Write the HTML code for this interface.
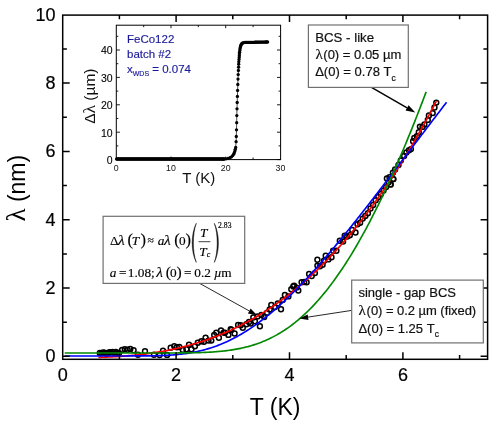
<!DOCTYPE html>
<html><head><meta charset="utf-8"><title>chart</title><style>html,body{margin:0;padding:0;background:#fff}body{width:491px;height:422px;overflow:hidden;position:relative}svg{will-change:transform;position:absolute;left:0;top:0}</style></head><body>
<svg width="491" height="422" viewBox="0 0 491 422" style="display:block">
<rect width="491" height="422" fill="#fff"/>
<g fill="none" stroke="#000" stroke-width="1.5">
<circle cx="167.1" cy="354.9" r="2.45"/>
<circle cx="170.7" cy="347.8" r="2.45"/>
<circle cx="174.3" cy="346.3" r="2.45"/>
<circle cx="179.3" cy="347.0" r="2.45"/>
<circle cx="182.8" cy="349.9" r="2.45"/>
<circle cx="186.4" cy="349.2" r="2.45"/>
<circle cx="191.4" cy="349.2" r="2.45"/>
<circle cx="194.9" cy="346.3" r="2.45"/>
<circle cx="197.8" cy="342.8" r="2.45"/>
<circle cx="201.4" cy="341.3" r="2.45"/>
<circle cx="205.6" cy="337.8" r="2.45"/>
<circle cx="208.5" cy="340.6" r="2.45"/>
<circle cx="211.3" cy="340.6" r="2.45"/>
<circle cx="214.2" cy="334.9" r="2.45"/>
<circle cx="216.3" cy="332.8" r="2.45"/>
<circle cx="218.9" cy="337.8" r="2.45"/>
<circle cx="221.0" cy="330.4" r="2.45"/>
<circle cx="224.9" cy="332.8" r="2.45"/>
<circle cx="228.4" cy="334.9" r="2.45"/>
<circle cx="231.3" cy="329.9" r="2.45"/>
<circle cx="234.6" cy="333.5" r="2.45"/>
<circle cx="230.7" cy="329.2" r="2.45"/>
<circle cx="238.1" cy="324.9" r="2.45"/>
<circle cx="242.8" cy="327.7" r="2.45"/>
<circle cx="246.4" cy="324.2" r="2.45"/>
<circle cx="250.7" cy="323.5" r="2.45"/>
<circle cx="254.9" cy="321.3" r="2.45"/>
<circle cx="259.9" cy="326.3" r="2.45"/>
<circle cx="261.4" cy="314.9" r="2.45"/>
<circle cx="264.2" cy="317.0" r="2.45"/>
<circle cx="267.1" cy="312.8" r="2.45"/>
<circle cx="271.3" cy="304.9" r="2.45"/>
<circle cx="274.9" cy="307.1" r="2.45"/>
<circle cx="277.8" cy="303.5" r="2.45"/>
<circle cx="281.0" cy="309.2" r="2.45"/>
<circle cx="282.7" cy="299.9" r="2.45"/>
<circle cx="284.9" cy="295.0" r="2.45"/>
<circle cx="288.4" cy="296.4" r="2.45"/>
<circle cx="291.3" cy="289.2" r="2.45"/>
<circle cx="294.1" cy="285.7" r="2.45"/>
<circle cx="293.3" cy="286.4" r="2.45"/>
<circle cx="298.3" cy="290.5" r="2.45"/>
<circle cx="301.6" cy="282.2" r="2.45"/>
<circle cx="306.6" cy="282.2" r="2.45"/>
<circle cx="309.1" cy="273.9" r="2.45"/>
<circle cx="314.9" cy="273.1" r="2.45"/>
<circle cx="317.4" cy="265.6" r="2.45"/>
<circle cx="317.4" cy="259.8" r="2.45"/>
<circle cx="324.0" cy="260.7" r="2.45"/>
<circle cx="325.7" cy="255.7" r="2.45"/>
<circle cx="331.5" cy="257.3" r="2.45"/>
<circle cx="333.1" cy="250.7" r="2.45"/>
<circle cx="336.4" cy="250.7" r="2.45"/>
<circle cx="339.8" cy="240.8" r="2.45"/>
<circle cx="343.1" cy="241.6" r="2.45"/>
<circle cx="344.7" cy="235.8" r="2.45"/>
<circle cx="347.2" cy="236.6" r="2.45"/>
<circle cx="352.2" cy="230.0" r="2.45"/>
<circle cx="355.5" cy="232.5" r="2.45"/>
<circle cx="393.3" cy="179.1" r="2.45"/>
<circle cx="390.6" cy="184.4" r="2.45"/>
<circle cx="436.3" cy="102.6" r="2.45"/>
<circle cx="434.5" cy="107.5" r="2.45"/>
<circle cx="432.7" cy="113.1" r="2.45"/>
<circle cx="428.9" cy="115.4" r="2.45"/>
<circle cx="427.8" cy="119.9" r="2.45"/>
<circle cx="424.4" cy="124.4" r="2.45"/>
<circle cx="419.9" cy="126.6" r="2.45"/>
<circle cx="418.8" cy="132.3" r="2.45"/>
<circle cx="414.3" cy="137.9" r="2.45"/>
<circle cx="413.1" cy="141.3" r="2.45"/>
<circle cx="410.9" cy="149.1" r="2.45"/>
<circle cx="406.4" cy="152.5" r="2.45"/>
<circle cx="404.1" cy="155.9" r="2.45"/>
<circle cx="400.8" cy="160.4" r="2.45"/>
<circle cx="398.5" cy="164.9" r="2.45"/>
<circle cx="395.1" cy="169.4" r="2.45"/>
<circle cx="392.9" cy="172.8" r="2.45"/>
<circle cx="389.5" cy="177.3" r="2.45"/>
<circle cx="99.8" cy="352.9" r="2.45"/>
<circle cx="101.4" cy="353.2" r="2.45"/>
<circle cx="103.0" cy="352.4" r="2.45"/>
<circle cx="104.6" cy="352.8" r="2.45"/>
<circle cx="106.2" cy="353.6" r="2.45"/>
<circle cx="107.8" cy="353.6" r="2.45"/>
<circle cx="109.4" cy="352.1" r="2.45"/>
<circle cx="111.0" cy="352.2" r="2.45"/>
<circle cx="112.6" cy="351.9" r="2.45"/>
<circle cx="114.2" cy="352.7" r="2.45"/>
<circle cx="115.8" cy="351.9" r="2.45"/>
<circle cx="117.4" cy="352.7" r="2.45"/>
<circle cx="119.0" cy="353.1" r="2.45"/>
<circle cx="122.1" cy="350.0" r="2.45"/>
<circle cx="124.8" cy="349.3" r="2.45"/>
<circle cx="127.6" cy="349.8" r="2.45"/>
<circle cx="130.3" cy="349.0" r="2.45"/>
<circle cx="133.6" cy="350.3" r="2.45"/>
<circle cx="138.0" cy="354.8" r="2.45"/>
<circle cx="145.0" cy="351.2" r="2.45"/>
<circle cx="154.0" cy="354.8" r="2.45"/>
<circle cx="159.6" cy="355.0" r="2.45"/>
<circle cx="163.0" cy="350.8" r="2.45"/>
<circle cx="357.5" cy="224.3" r="2.45"/>
<circle cx="360.1" cy="222.8" r="2.45"/>
<circle cx="362.7" cy="218.6" r="2.45"/>
<circle cx="365.3" cy="216.0" r="2.45"/>
<circle cx="367.9" cy="213.2" r="2.45"/>
<circle cx="370.5" cy="208.5" r="2.45"/>
<circle cx="373.1" cy="204.9" r="2.45"/>
<circle cx="375.7" cy="200.2" r="2.45"/>
<circle cx="378.3" cy="197.0" r="2.45"/>
<circle cx="380.9" cy="193.9" r="2.45"/>
<circle cx="383.5" cy="190.6" r="2.45"/>
<circle cx="386.1" cy="187.1" r="2.45"/>
<circle cx="388.7" cy="182.2" r="2.45"/>
<circle cx="386.9" cy="178.5" r="2.45"/>
<circle cx="393.3" cy="179.1" r="2.45"/>
<circle cx="390.6" cy="184.4" r="2.45"/>
<circle cx="176.9" cy="347.3" r="2.45"/>
<circle cx="189.0" cy="344.8" r="2.45"/>
<circle cx="204.0" cy="341.7" r="2.45"/>
<circle cx="223.6" cy="332.6" r="2.45"/>
<circle cx="240.7" cy="325.3" r="2.45"/>
<circle cx="249.0" cy="322.0" r="2.45"/>
<circle cx="253.3" cy="317.4" r="2.45"/>
<circle cx="257.5" cy="316.4" r="2.45"/>
<circle cx="269.7" cy="309.5" r="2.45"/>
<circle cx="296.7" cy="287.6" r="2.45"/>
<circle cx="304.2" cy="282.0" r="2.45"/>
<circle cx="311.7" cy="276.1" r="2.45"/>
<circle cx="320.0" cy="266.3" r="2.45"/>
<circle cx="322.6" cy="264.7" r="2.45"/>
<circle cx="328.3" cy="259.4" r="2.45"/>
<circle cx="349.8" cy="235.2" r="2.45"/>
<circle cx="409.0" cy="150.2" r="2.45"/>
<circle cx="416.9" cy="136.1" r="2.45"/>
<circle cx="422.5" cy="126.9" r="2.45"/>
</g>
<path d="M98.42,357.38 L100.12,357.33 L101.82,357.28 L103.52,357.22 L105.21,357.15 L106.91,357.08 L108.61,357.01 L110.31,356.93 L112.01,356.85 L113.70,356.76 L115.40,356.67 L117.10,356.57 L118.80,356.46 L120.50,356.35 L122.20,356.23 L123.89,356.11 L125.59,355.97 L127.29,355.84 L128.99,355.69 L130.69,355.54 L132.38,355.39 L134.08,355.22 L135.78,355.05 L137.48,354.87 L139.18,354.69 L140.87,354.49 L142.57,354.29 L144.27,354.08 L145.97,353.87 L147.67,353.64 L149.37,353.41 L151.06,353.17 L152.76,352.92 L154.46,352.66 L156.16,352.39 L157.86,352.11 L159.55,351.83 L161.25,351.53 L162.95,351.23 L164.65,350.92 L166.35,350.60 L168.05,350.26 L169.74,349.92 L171.44,349.57 L173.14,349.21 L174.84,348.84 L176.54,348.46 L178.23,348.06 L179.93,347.66 L181.63,347.25 L183.33,346.82 L185.03,346.39 L186.72,345.94 L188.42,345.49 L190.12,345.02 L191.82,344.54 L193.52,344.05 L195.22,343.55 L196.91,343.03 L198.61,342.51 L200.31,341.97 L202.01,341.42 L203.71,340.86 L205.40,340.28 L207.10,339.70 L208.80,339.10 L210.50,338.49 L212.20,337.86 L213.90,337.23 L215.59,336.58 L217.29,335.91 L218.99,335.24 L220.69,334.55 L222.39,333.84 L224.08,333.13 L225.78,332.40 L227.48,331.65 L229.18,330.90 L230.88,330.13 L232.57,329.34 L234.27,328.54 L235.97,327.73 L237.67,326.90 L239.37,326.05 L241.07,325.20 L242.76,324.32 L244.46,323.44 L246.16,322.53 L247.86,321.62 L249.56,320.68 L251.25,319.74 L252.95,318.77 L254.65,317.79 L256.35,316.80 L258.05,315.79 L259.75,314.76 L261.44,313.72 L263.14,312.66 L264.84,311.59 L266.54,310.50 L268.24,309.39 L269.93,308.27 L271.63,307.13 L273.33,305.97 L275.03,304.79 L276.73,303.60 L278.42,302.40 L280.12,301.17 L281.82,299.93 L283.52,298.67 L285.22,297.39 L286.92,296.10 L288.61,294.79 L290.31,293.46 L292.01,292.11 L293.71,290.74 L295.41,289.36 L297.10,287.95 L298.80,286.53 L300.50,285.10 L302.20,283.64 L303.90,282.16 L305.60,280.67 L307.29,279.15 L308.99,277.62 L310.69,276.07 L312.39,274.50 L314.09,272.91 L315.78,271.30 L317.48,269.67 L319.18,268.02 L320.88,266.35 L322.58,264.66 L324.28,262.95 L325.97,261.23 L327.67,259.48 L329.37,257.71 L331.07,255.92 L332.77,254.11 L334.46,252.28 L336.16,250.43 L337.86,248.56 L339.56,246.67 L341.26,244.76 L342.95,242.83 L344.65,240.87 L346.35,238.90 L348.05,236.90 L349.75,234.88 L351.45,232.84 L353.14,230.78 L354.84,228.70 L356.54,226.59 L358.24,224.46 L359.94,222.31 L361.63,220.14 L363.33,217.95 L365.03,215.73 L366.73,213.50 L368.43,211.24 L370.13,208.95 L371.82,206.65 L373.52,204.32 L375.22,201.97 L376.92,199.59 L378.62,197.20 L380.31,194.77 L382.01,192.33 L383.71,189.86 L385.41,187.37 L387.11,184.86 L388.80,182.32 L390.50,179.76 L392.20,177.17 L393.90,174.56 L395.60,171.93 L397.30,169.27 L398.99,166.59 L400.69,163.88 L402.39,161.15 L404.09,158.39 L405.79,155.61 L407.48,152.81 L409.18,149.97 L410.88,147.12 L412.58,144.24 L414.28,141.33 L415.98,138.40 L417.67,135.45 L419.37,132.47 L421.07,129.46 L422.77,126.43 L424.47,123.37 L426.16,120.28 L427.86,117.17 L429.56,114.04 L431.26,110.87 L432.96,107.69 L434.65,104.47 L436.35,101.23" fill="none" stroke="#f00" stroke-width="1.65"/>
<path d="M64.68,355.95 L66.16,355.95 L67.63,355.95 L69.11,355.95 L70.58,355.95 L72.06,355.95 L73.53,355.95 L75.01,355.95 L76.48,355.95 L77.95,355.95 L79.43,355.95 L80.90,355.95 L82.38,355.95 L83.85,355.95 L85.33,355.95 L86.80,355.95 L88.28,355.95 L89.75,355.95 L91.22,355.95 L92.70,355.95 L94.17,355.95 L95.65,355.95 L97.12,355.95 L98.60,355.95 L100.07,355.95 L101.54,355.95 L103.02,355.95 L104.49,355.95 L105.97,355.95 L107.44,355.95 L108.92,355.95 L110.39,355.95 L111.87,355.95 L113.34,355.95 L114.81,355.95 L116.29,355.95 L117.76,355.95 L119.24,355.95 L120.71,355.95 L122.19,355.95 L123.66,355.95 L125.14,355.95 L126.61,355.95 L128.08,355.94 L129.56,355.94 L131.03,355.94 L132.51,355.94 L133.98,355.94 L135.46,355.93 L136.93,355.93 L138.41,355.92 L139.88,355.92 L141.35,355.91 L142.83,355.90 L144.30,355.89 L145.78,355.88 L147.25,355.86 L148.73,355.84 L150.20,355.82 L151.68,355.80 L153.15,355.77 L154.62,355.74 L156.10,355.71 L157.57,355.67 L159.05,355.63 L160.52,355.58 L162.00,355.52 L163.47,355.46 L164.94,355.40 L166.42,355.32 L167.89,355.24 L169.37,355.16 L170.84,355.06 L172.32,354.96 L173.79,354.84 L175.27,354.72 L176.74,354.59 L178.21,354.45 L179.69,354.29 L181.16,354.13 L182.64,353.96 L184.11,353.77 L185.59,353.57 L187.06,353.36 L188.54,353.13 L190.01,352.89 L191.48,352.64 L192.96,352.37 L194.43,352.09 L195.91,351.80 L197.38,351.48 L198.86,351.16 L200.33,350.81 L201.81,350.46 L203.28,350.08 L204.75,349.69 L206.23,349.28 L207.70,348.85 L209.18,348.41 L210.65,347.95 L212.13,347.47 L213.60,346.97 L215.08,346.45 L216.55,345.92 L218.02,345.37 L219.50,344.80 L220.97,344.21 L222.45,343.60 L223.92,342.97 L225.40,342.32 L226.87,341.66 L228.35,340.97 L229.82,340.26 L231.29,339.54 L232.77,338.80 L234.24,338.03 L235.72,337.25 L237.19,336.45 L238.67,335.63 L240.14,334.79 L241.61,333.93 L243.09,333.05 L244.56,332.15 L246.04,331.23 L247.51,330.29 L248.99,329.34 L250.46,328.36 L251.94,327.37 L253.41,326.36 L254.88,325.33 L256.36,324.28 L257.83,323.21 L259.31,322.12 L260.78,321.02 L262.26,319.90 L263.73,318.76 L265.21,317.60 L266.68,316.43 L268.15,315.23 L269.63,314.02 L271.10,312.80 L272.58,311.56 L274.05,310.30 L275.53,309.02 L277.00,307.73 L278.48,306.42 L279.95,305.10 L281.42,303.76 L282.90,302.40 L284.37,301.03 L285.85,299.65 L287.32,298.25 L288.80,296.83 L290.27,295.40 L291.75,293.96 L293.22,292.50 L294.69,291.03 L296.17,289.55 L297.64,288.05 L299.12,286.54 L300.59,285.02 L302.07,283.48 L303.54,281.93 L305.01,280.37 L306.49,278.80 L307.96,277.21 L309.44,275.62 L310.91,274.01 L312.39,272.39 L313.86,270.76 L315.34,269.12 L316.81,267.47 L318.28,265.81 L319.76,264.14 L321.23,262.45 L322.71,260.76 L324.18,259.06 L325.66,257.35 L327.13,255.63 L328.61,253.91 L330.08,252.17 L331.55,250.43 L333.03,248.67 L334.50,246.91 L335.98,245.14 L337.45,243.37 L338.93,241.58 L340.40,239.79 L341.88,237.99 L343.35,236.19 L344.82,234.38 L346.30,232.56 L347.77,230.74 L349.25,228.90 L350.72,227.07 L352.20,225.23 L353.67,223.38 L355.15,221.53 L356.62,219.67 L358.09,217.81 L359.57,215.94 L361.04,214.06 L362.52,212.19 L363.99,210.31 L365.47,208.42 L366.94,206.53 L368.41,204.64 L369.89,202.74 L371.36,200.84 L372.84,198.94 L374.31,197.03 L375.79,195.12 L377.26,193.20 L378.74,191.29 L380.21,189.37 L381.68,187.45 L383.16,185.52 L384.63,183.60 L386.11,181.67 L387.58,179.74 L389.06,177.81 L390.53,175.88 L392.01,173.94 L393.48,172.00 L394.95,170.07 L396.43,168.13 L397.90,166.19 L399.38,164.25 L400.85,162.30 L402.33,160.36 L403.80,158.42 L405.28,156.48 L406.75,154.53 L408.22,152.59 L409.70,150.64 L411.17,148.70 L412.65,146.75 L414.12,144.81 L415.60,142.87 L417.07,140.92 L418.55,138.98 L420.02,137.04 L421.49,135.10 L422.97,133.15 L424.44,131.21 L425.92,129.28 L427.39,127.34 L428.87,125.40 L430.34,123.46 L431.81,121.53 L433.29,119.60 L434.76,117.67 L436.24,115.73 L437.71,113.81 L439.19,111.88 L440.66,109.95 L442.14,108.03 L443.61,106.11 L445.08,104.19 L446.56,102.27" fill="none" stroke="#00f" stroke-width="1.65"/>
<path d="M64.68,352.99 L66.08,352.99 L67.48,352.99 L68.87,352.99 L70.27,352.99 L71.66,352.99 L73.06,352.99 L74.45,352.99 L75.85,352.99 L77.24,352.99 L78.64,352.99 L80.04,352.99 L81.43,352.99 L82.83,352.99 L84.22,352.99 L85.62,352.99 L87.01,352.99 L88.41,352.99 L89.81,352.99 L91.20,352.99 L92.60,352.99 L93.99,352.99 L95.39,352.99 L96.78,352.99 L98.18,352.99 L99.57,352.99 L100.97,352.99 L102.37,352.99 L103.76,352.99 L105.16,352.99 L106.55,352.99 L107.95,352.99 L109.34,352.99 L110.74,352.99 L112.14,352.99 L113.53,352.99 L114.93,352.99 L116.32,352.99 L117.72,352.99 L119.11,352.99 L120.51,352.99 L121.90,352.99 L123.30,352.99 L124.70,352.99 L126.09,352.99 L127.49,352.99 L128.88,352.99 L130.28,352.99 L131.67,352.99 L133.07,352.99 L134.46,352.99 L135.86,352.99 L137.26,352.99 L138.65,352.99 L140.05,352.99 L141.44,352.99 L142.84,352.99 L144.23,352.99 L145.63,352.99 L147.03,352.99 L148.42,352.99 L149.82,352.99 L151.21,352.99 L152.61,352.99 L154.00,352.99 L155.40,352.99 L156.79,352.99 L158.19,352.99 L159.59,352.99 L160.98,352.99 L162.38,352.99 L163.77,352.99 L165.17,352.98 L166.56,352.98 L167.96,352.98 L169.36,352.97 L170.75,352.97 L172.15,352.97 L173.54,352.96 L174.94,352.96 L176.33,352.95 L177.73,352.94 L179.12,352.93 L180.52,352.92 L181.92,352.91 L183.31,352.90 L184.71,352.88 L186.10,352.87 L187.50,352.85 L188.89,352.83 L190.29,352.81 L191.68,352.78 L193.08,352.76 L194.48,352.73 L195.87,352.69 L197.27,352.66 L198.66,352.62 L200.06,352.57 L201.45,352.53 L202.85,352.48 L204.25,352.42 L205.64,352.36 L207.04,352.29 L208.43,352.22 L209.83,352.15 L211.22,352.06 L212.62,351.97 L214.01,351.88 L215.41,351.78 L216.81,351.67 L218.20,351.55 L219.60,351.43 L220.99,351.29 L222.39,351.15 L223.78,351.00 L225.18,350.84 L226.58,350.67 L227.97,350.49 L229.37,350.30 L230.76,350.10 L232.16,349.89 L233.55,349.66 L234.95,349.43 L236.34,349.18 L237.74,348.92 L239.14,348.65 L240.53,348.36 L241.93,348.06 L243.32,347.74 L244.72,347.41 L246.11,347.06 L247.51,346.70 L248.90,346.33 L250.30,345.93 L251.70,345.52 L253.09,345.09 L254.49,344.65 L255.88,344.19 L257.28,343.71 L258.67,343.21 L260.07,342.69 L261.47,342.15 L262.86,341.60 L264.26,341.02 L265.65,340.42 L267.05,339.80 L268.44,339.16 L269.84,338.50 L271.23,337.82 L272.63,337.12 L274.03,336.39 L275.42,335.64 L276.82,334.87 L278.21,334.07 L279.61,333.25 L281.00,332.41 L282.40,331.54 L283.79,330.65 L285.19,329.73 L286.59,328.79 L287.98,327.82 L289.38,326.83 L290.77,325.81 L292.17,324.77 L293.56,323.70 L294.96,322.60 L296.36,321.48 L297.75,320.33 L299.15,319.15 L300.54,317.95 L301.94,316.71 L303.33,315.45 L304.73,314.17 L306.12,312.85 L307.52,311.51 L308.92,310.13 L310.31,308.73 L311.71,307.30 L313.10,305.85 L314.50,304.36 L315.89,302.84 L317.29,301.30 L318.69,299.73 L320.08,298.12 L321.48,296.49 L322.87,294.83 L324.27,293.14 L325.66,291.42 L327.06,289.67 L328.45,287.89 L329.85,286.08 L331.25,284.24 L332.64,282.37 L334.04,280.47 L335.43,278.54 L336.83,276.58 L338.22,274.59 L339.62,272.57 L341.01,270.52 L342.41,268.44 L343.81,266.34 L345.20,264.20 L346.60,262.03 L347.99,259.83 L349.39,257.60 L350.78,255.34 L352.18,253.06 L353.58,250.74 L354.97,248.39 L356.37,246.02 L357.76,243.61 L359.16,241.18 L360.55,238.71 L361.95,236.22 L363.34,233.69 L364.74,231.14 L366.14,228.56 L367.53,225.95 L368.93,223.31 L370.32,220.64 L371.72,217.94 L373.11,215.22 L374.51,212.47 L375.91,209.68 L377.30,206.87 L378.70,204.03 L380.09,201.17 L381.49,198.27 L382.88,195.35 L384.28,192.40 L385.67,189.43 L387.07,186.42 L388.47,183.39 L389.86,180.33 L391.26,177.25 L392.65,174.13 L394.05,171.00 L395.44,167.83 L396.84,164.64 L398.23,161.42 L399.63,158.18 L401.03,154.91 L402.42,151.62 L403.82,148.29 L405.21,144.95 L406.61,141.58 L408.00,138.18 L409.40,134.76 L410.80,131.32 L412.19,127.85 L413.59,124.36 L414.98,120.84 L416.38,117.30 L417.77,113.73 L419.17,110.14 L420.56,106.53 L421.96,102.90 L423.36,99.24 L424.75,95.56 L426.15,91.85" fill="none" stroke="#080" stroke-width="1.65"/>
<g stroke="#000" stroke-width="1.5" fill="none">
<rect x="62.7" y="15.1" width="424.90000000000003" height="344.2"/>
<path d="M119.4,359.3 v-4.2 M119.4,15.1 v4.2"/>
<path d="M176.1,359.3 v-7 M176.1,15.1 v7"/>
<path d="M232.8,359.3 v-4.2 M232.8,15.1 v4.2"/>
<path d="M289.5,359.3 v-7 M289.5,15.1 v7"/>
<path d="M346.2,359.3 v-4.2 M346.2,15.1 v4.2"/>
<path d="M402.9,359.3 v-7 M402.9,15.1 v7"/>
<path d="M459.6,359.3 v-4.2 M459.6,15.1 v4.2"/>
<path d="M62.7,356.3 h7 M487.6,356.3 h-7"/>
<path d="M62.7,322.2 h4.2 M487.6,322.2 h-4.2"/>
<path d="M62.7,288.0 h7 M487.6,288.0 h-7"/>
<path d="M62.7,253.9 h4.2 M487.6,253.9 h-4.2"/>
<path d="M62.7,219.7 h7 M487.6,219.7 h-7"/>
<path d="M62.7,185.6 h4.2 M487.6,185.6 h-4.2"/>
<path d="M62.7,151.4 h7 M487.6,151.4 h-7"/>
<path d="M62.7,117.3 h4.2 M487.6,117.3 h-4.2"/>
<path d="M62.7,83.1 h7 M487.6,83.1 h-7"/>
<path d="M62.7,49.0 h4.2 M487.6,49.0 h-4.2"/>
</g>
<g font-family="Liberation Sans, sans-serif" font-size="18" fill="#000" stroke="#000" stroke-width="0.2">
<text x="62.7" y="381" text-anchor="middle">0</text>
<text x="176.1" y="381" text-anchor="middle">2</text>
<text x="289.5" y="381" text-anchor="middle">4</text>
<text x="402.9" y="381" text-anchor="middle">6</text>
<text x="55.6" y="362.2" text-anchor="end">0</text>
<text x="55.6" y="293.9" text-anchor="end">2</text>
<text x="55.6" y="225.6" text-anchor="end">4</text>
<text x="55.6" y="157.3" text-anchor="end">6</text>
<text x="55.6" y="89.0" text-anchor="end">8</text>
<text x="55.6" y="20.7" text-anchor="end">10</text>
</g>
<text x="275.2" y="415" text-anchor="middle" font-family="Liberation Sans, sans-serif" font-size="23">T (K)</text>
<text transform="translate(24.9,188.2) rotate(-90)" text-anchor="middle" font-family="Liberation Sans, sans-serif" font-size="23"><tspan font-family="Liberation Serif, serif" font-size="27">λ</tspan> (nm)</text>
<rect x="116.3" y="25.2" width="164.3" height="134.4" fill="#fff" stroke="#000" stroke-width="1"/>
<g stroke="#000" stroke-width="0.9" fill="none">
<path d="M116.3,159.6 h3.6 M280.6,159.6 h-3.6"/>
<path d="M116.3,145.9 h2 M280.6,145.9 h-2"/>
<path d="M116.3,132.2 h3.6 M280.6,132.2 h-3.6"/>
<path d="M116.3,118.5 h2 M280.6,118.5 h-2"/>
<path d="M116.3,104.8 h3.6 M280.6,104.8 h-3.6"/>
<path d="M116.3,91.1 h2 M280.6,91.1 h-2"/>
<path d="M116.3,77.4 h3.6 M280.6,77.4 h-3.6"/>
<path d="M116.3,63.7 h2 M280.6,63.7 h-2"/>
<path d="M116.3,50.0 h3.6 M280.6,50.0 h-3.6"/>
<path d="M116.3,36.3 h2 M280.6,36.3 h-2"/>
<path d="M143.7,159.6 v-2 M143.7,25.2 v2"/>
<path d="M171.0,159.6 v-3 M171.0,25.2 v3"/>
<path d="M198.3,159.6 v-2 M198.3,25.2 v2"/>
<path d="M225.7,159.6 v-3 M225.7,25.2 v3"/>
<path d="M253.1,159.6 v-2 M253.1,25.2 v2"/>
</g>
<g font-family="Liberation Sans, sans-serif" font-size="10.5" fill="#000" stroke="#000" stroke-width="0.1">
<text x="112.7" y="163.9" text-anchor="end">0</text>
<text x="112.7" y="136.5" text-anchor="end">10</text>
<text x="112.7" y="109.1" text-anchor="end">20</text>
<text x="112.7" y="81.7" text-anchor="end">30</text>
<text x="112.7" y="54.3" text-anchor="end">40</text>
</g>
<g font-family="Liberation Sans, sans-serif" font-size="8.8" fill="#111">
<text x="116.3" y="171.2" text-anchor="middle">0</text>
<text x="171.0" y="171.2" text-anchor="middle">10</text>
<text x="225.7" y="171.2" text-anchor="middle">20</text>
<text x="280.4" y="171.2" text-anchor="middle">30</text>
</g>
<text x="198.8" y="182.6" text-anchor="middle" font-family="Liberation Sans, sans-serif" font-size="15" fill="#111">T (K)</text>
<text transform="translate(95.2,96.2) rotate(-90)" text-anchor="middle" font-family="Liberation Sans, sans-serif" font-size="15.5" fill="#111">Δ<tspan font-family="Liberation Serif, serif" font-size="17.5">λ</tspan> (µm)</text>
<g font-family="Liberation Sans, sans-serif" font-size="11.5" fill="#1a1a99" stroke="#1a1a99" stroke-width="0.15">
<text x="127" y="43.1">FeCo122</text>
<text x="127" y="57.8">batch #2</text>
<text x="127" y="72.5">x<tspan font-size="7" dy="3.3">WDS</tspan><tspan dy="-3.3"> = 0.074</tspan></text>
</g>
<path d="M116.60,159.00 L117.40,159.00 L118.20,159.00 L119.00,159.00 L119.80,159.00 L120.60,159.00 L121.40,159.00 L122.20,159.00 L123.00,159.00 L123.80,159.00 L124.60,159.00 L125.40,159.00 L126.20,159.00 L127.00,159.00 L127.80,159.00 L128.60,159.00 L129.40,159.00 L130.20,159.00 L131.00,159.00 L131.80,159.00 L132.60,159.00 L133.40,159.00 L134.20,159.00 L135.00,159.00 L135.80,159.00 L136.60,159.00 L137.40,159.00 L138.20,159.00 L139.00,159.00 L139.80,159.00 L140.60,159.00 L141.40,159.00 L142.20,159.00 L143.00,159.00 L143.80,159.00 L144.60,159.00 L145.40,159.00 L146.20,159.00 L147.00,159.00 L147.80,159.00 L148.60,159.00 L149.40,159.00 L150.20,159.00 L151.00,159.00 L151.80,159.00 L152.60,159.00 L153.40,159.00 L154.20,159.00 L155.00,159.00 L155.80,159.00 L156.60,159.00 L157.40,159.00 L158.20,159.00 L159.00,159.00 L159.80,159.00 L160.60,159.00 L161.40,159.00 L162.20,159.00 L163.00,159.00 L163.80,159.00 L164.60,159.00 L165.40,159.00 L166.20,159.00 L167.00,159.00 L167.80,159.00 L168.60,159.00 L169.40,159.00 L170.20,159.00 L171.00,159.00 L171.80,159.00 L172.60,159.00 L173.40,159.00 L174.20,159.00 L175.00,159.00 L175.80,159.00 L176.60,159.00 L177.40,159.00 L178.20,159.00 L179.00,159.00 L179.80,159.00 L180.60,159.00 L181.40,159.00 L182.20,159.00 L183.00,159.00 L183.80,159.00 L184.60,159.00 L185.40,159.00 L186.20,159.00 L187.00,159.00 L187.80,159.00 L188.60,159.00 L189.40,159.00 L190.20,159.00 L191.00,159.00 L191.80,159.00 L192.60,159.00 L193.40,159.00 L194.20,159.00 L195.00,159.00 L195.80,159.00 L196.60,159.00 L197.40,159.00 L198.20,159.00 L199.00,159.00 L199.80,159.00 L200.60,159.00 L201.40,159.00 L202.20,159.00 L203.00,159.00 L203.80,159.00 L204.60,159.00 L205.40,159.00 L206.20,159.00 L207.00,159.00 L207.80,159.00 L208.60,159.00 L209.40,159.00 L210.20,159.00 L211.00,159.00 L211.80,159.00 L212.60,159.00 L213.40,159.00 L214.20,159.00 L215.00,159.00 L215.80,159.00 L216.60,159.00 L217.40,159.00 L218.20,159.00 L219.00,159.00 L219.80,159.00 L220.60,159.00 L221.40,159.00 L222.20,159.00 L223.00,159.00 L223.80,159.00 L224.00,159.00 L226.00,158.80 L228.00,158.40 L230.00,157.70 L231.50,156.80 L232.70,155.60 L233.60,154.20 L234.30,152.70 L234.90,151.00 L235.30,149.30 L235.65,147.40 L236.10,141.70 L236.30,136.50 L236.50,129.80 L236.65,122.70 L236.80,115.60 L237.00,108.80 L237.20,102.50 L237.40,96.40 L237.60,90.40 L237.80,84.50 L238.00,79.10 L238.20,74.60 L238.40,70.50 L238.55,67.20 L238.70,64.20 L238.85,61.80 L239.00,59.60 L239.15,57.60 L239.30,55.70 L239.45,53.90 L239.60,52.20 L239.80,50.60 L240.00,49.10 L240.25,47.70 L240.55,46.40 L240.90,45.20 L241.40,44.20 L242.00,43.40 L242.80,42.90 L243.80,42.60 L245.00,42.40 L246.00,42.40 L246.90,42.38 L247.80,42.37 L248.70,42.35 L249.60,42.33 L250.50,42.32 L251.40,42.30 L252.30,42.29 L253.20,42.27 L254.10,42.25 L255.00,42.24 L255.90,42.22 L256.80,42.20 L257.70,42.19 L258.60,42.17 L259.50,42.15 L260.40,42.14 L261.30,42.12 L262.20,42.11 L263.10,42.09 L264.00,42.07 L264.90,42.06 L265.80,42.04 L266.70,42.02 L267.60,42.01" fill="none" stroke="#000" stroke-width="0.7"/>
<g fill="#000">
<circle cx="116.6" cy="159.0" r="1.65"/>
<circle cx="117.4" cy="159.0" r="1.65"/>
<circle cx="118.2" cy="159.0" r="1.65"/>
<circle cx="119.0" cy="159.0" r="1.65"/>
<circle cx="119.8" cy="159.0" r="1.65"/>
<circle cx="120.6" cy="159.0" r="1.65"/>
<circle cx="121.4" cy="159.0" r="1.65"/>
<circle cx="122.2" cy="159.0" r="1.65"/>
<circle cx="123.0" cy="159.0" r="1.65"/>
<circle cx="123.8" cy="159.0" r="1.65"/>
<circle cx="124.6" cy="159.0" r="1.65"/>
<circle cx="125.4" cy="159.0" r="1.65"/>
<circle cx="126.2" cy="159.0" r="1.65"/>
<circle cx="127.0" cy="159.0" r="1.65"/>
<circle cx="127.8" cy="159.0" r="1.65"/>
<circle cx="128.6" cy="159.0" r="1.65"/>
<circle cx="129.4" cy="159.0" r="1.65"/>
<circle cx="130.2" cy="159.0" r="1.65"/>
<circle cx="131.0" cy="159.0" r="1.65"/>
<circle cx="131.8" cy="159.0" r="1.65"/>
<circle cx="132.6" cy="159.0" r="1.65"/>
<circle cx="133.4" cy="159.0" r="1.65"/>
<circle cx="134.2" cy="159.0" r="1.65"/>
<circle cx="135.0" cy="159.0" r="1.65"/>
<circle cx="135.8" cy="159.0" r="1.65"/>
<circle cx="136.6" cy="159.0" r="1.65"/>
<circle cx="137.4" cy="159.0" r="1.65"/>
<circle cx="138.2" cy="159.0" r="1.65"/>
<circle cx="139.0" cy="159.0" r="1.65"/>
<circle cx="139.8" cy="159.0" r="1.65"/>
<circle cx="140.6" cy="159.0" r="1.65"/>
<circle cx="141.4" cy="159.0" r="1.65"/>
<circle cx="142.2" cy="159.0" r="1.65"/>
<circle cx="143.0" cy="159.0" r="1.65"/>
<circle cx="143.8" cy="159.0" r="1.65"/>
<circle cx="144.6" cy="159.0" r="1.65"/>
<circle cx="145.4" cy="159.0" r="1.65"/>
<circle cx="146.2" cy="159.0" r="1.65"/>
<circle cx="147.0" cy="159.0" r="1.65"/>
<circle cx="147.8" cy="159.0" r="1.65"/>
<circle cx="148.6" cy="159.0" r="1.65"/>
<circle cx="149.4" cy="159.0" r="1.65"/>
<circle cx="150.2" cy="159.0" r="1.65"/>
<circle cx="151.0" cy="159.0" r="1.65"/>
<circle cx="151.8" cy="159.0" r="1.65"/>
<circle cx="152.6" cy="159.0" r="1.65"/>
<circle cx="153.4" cy="159.0" r="1.65"/>
<circle cx="154.2" cy="159.0" r="1.65"/>
<circle cx="155.0" cy="159.0" r="1.65"/>
<circle cx="155.8" cy="159.0" r="1.65"/>
<circle cx="156.6" cy="159.0" r="1.65"/>
<circle cx="157.4" cy="159.0" r="1.65"/>
<circle cx="158.2" cy="159.0" r="1.65"/>
<circle cx="159.0" cy="159.0" r="1.65"/>
<circle cx="159.8" cy="159.0" r="1.65"/>
<circle cx="160.6" cy="159.0" r="1.65"/>
<circle cx="161.4" cy="159.0" r="1.65"/>
<circle cx="162.2" cy="159.0" r="1.65"/>
<circle cx="163.0" cy="159.0" r="1.65"/>
<circle cx="163.8" cy="159.0" r="1.65"/>
<circle cx="164.6" cy="159.0" r="1.65"/>
<circle cx="165.4" cy="159.0" r="1.65"/>
<circle cx="166.2" cy="159.0" r="1.65"/>
<circle cx="167.0" cy="159.0" r="1.65"/>
<circle cx="167.8" cy="159.0" r="1.65"/>
<circle cx="168.6" cy="159.0" r="1.65"/>
<circle cx="169.4" cy="159.0" r="1.65"/>
<circle cx="170.2" cy="159.0" r="1.65"/>
<circle cx="171.0" cy="159.0" r="1.65"/>
<circle cx="171.8" cy="159.0" r="1.65"/>
<circle cx="172.6" cy="159.0" r="1.65"/>
<circle cx="173.4" cy="159.0" r="1.65"/>
<circle cx="174.2" cy="159.0" r="1.65"/>
<circle cx="175.0" cy="159.0" r="1.65"/>
<circle cx="175.8" cy="159.0" r="1.65"/>
<circle cx="176.6" cy="159.0" r="1.65"/>
<circle cx="177.4" cy="159.0" r="1.65"/>
<circle cx="178.2" cy="159.0" r="1.65"/>
<circle cx="179.0" cy="159.0" r="1.65"/>
<circle cx="179.8" cy="159.0" r="1.65"/>
<circle cx="180.6" cy="159.0" r="1.65"/>
<circle cx="181.4" cy="159.0" r="1.65"/>
<circle cx="182.2" cy="159.0" r="1.65"/>
<circle cx="183.0" cy="159.0" r="1.65"/>
<circle cx="183.8" cy="159.0" r="1.65"/>
<circle cx="184.6" cy="159.0" r="1.65"/>
<circle cx="185.4" cy="159.0" r="1.65"/>
<circle cx="186.2" cy="159.0" r="1.65"/>
<circle cx="187.0" cy="159.0" r="1.65"/>
<circle cx="187.8" cy="159.0" r="1.65"/>
<circle cx="188.6" cy="159.0" r="1.65"/>
<circle cx="189.4" cy="159.0" r="1.65"/>
<circle cx="190.2" cy="159.0" r="1.65"/>
<circle cx="191.0" cy="159.0" r="1.65"/>
<circle cx="191.8" cy="159.0" r="1.65"/>
<circle cx="192.6" cy="159.0" r="1.65"/>
<circle cx="193.4" cy="159.0" r="1.65"/>
<circle cx="194.2" cy="159.0" r="1.65"/>
<circle cx="195.0" cy="159.0" r="1.65"/>
<circle cx="195.8" cy="159.0" r="1.65"/>
<circle cx="196.6" cy="159.0" r="1.65"/>
<circle cx="197.4" cy="159.0" r="1.65"/>
<circle cx="198.2" cy="159.0" r="1.65"/>
<circle cx="199.0" cy="159.0" r="1.65"/>
<circle cx="199.8" cy="159.0" r="1.65"/>
<circle cx="200.6" cy="159.0" r="1.65"/>
<circle cx="201.4" cy="159.0" r="1.65"/>
<circle cx="202.2" cy="159.0" r="1.65"/>
<circle cx="203.0" cy="159.0" r="1.65"/>
<circle cx="203.8" cy="159.0" r="1.65"/>
<circle cx="204.6" cy="159.0" r="1.65"/>
<circle cx="205.4" cy="159.0" r="1.65"/>
<circle cx="206.2" cy="159.0" r="1.65"/>
<circle cx="207.0" cy="159.0" r="1.65"/>
<circle cx="207.8" cy="159.0" r="1.65"/>
<circle cx="208.6" cy="159.0" r="1.65"/>
<circle cx="209.4" cy="159.0" r="1.65"/>
<circle cx="210.2" cy="159.0" r="1.65"/>
<circle cx="211.0" cy="159.0" r="1.65"/>
<circle cx="211.8" cy="159.0" r="1.65"/>
<circle cx="212.6" cy="159.0" r="1.65"/>
<circle cx="213.4" cy="159.0" r="1.65"/>
<circle cx="214.2" cy="159.0" r="1.65"/>
<circle cx="215.0" cy="159.0" r="1.65"/>
<circle cx="215.8" cy="159.0" r="1.65"/>
<circle cx="216.6" cy="159.0" r="1.65"/>
<circle cx="217.4" cy="159.0" r="1.65"/>
<circle cx="218.2" cy="159.0" r="1.65"/>
<circle cx="219.0" cy="159.0" r="1.65"/>
<circle cx="219.8" cy="159.0" r="1.65"/>
<circle cx="220.6" cy="159.0" r="1.65"/>
<circle cx="221.4" cy="159.0" r="1.65"/>
<circle cx="222.2" cy="159.0" r="1.65"/>
<circle cx="223.0" cy="159.0" r="1.65"/>
<circle cx="223.8" cy="159.0" r="1.65"/>
<circle cx="224.0" cy="159.0" r="1.65"/>
<circle cx="226.0" cy="158.8" r="1.65"/>
<circle cx="228.0" cy="158.4" r="1.65"/>
<circle cx="230.0" cy="157.7" r="1.65"/>
<circle cx="231.5" cy="156.8" r="1.65"/>
<circle cx="232.7" cy="155.6" r="1.65"/>
<circle cx="233.6" cy="154.2" r="1.65"/>
<circle cx="234.3" cy="152.7" r="1.65"/>
<circle cx="234.9" cy="151.0" r="1.65"/>
<circle cx="235.3" cy="149.3" r="1.65"/>
<circle cx="235.7" cy="147.4" r="1.65"/>
<circle cx="236.1" cy="141.7" r="1.65"/>
<circle cx="236.3" cy="136.5" r="1.65"/>
<circle cx="236.5" cy="129.8" r="1.65"/>
<circle cx="236.7" cy="122.7" r="1.65"/>
<circle cx="236.8" cy="115.6" r="1.65"/>
<circle cx="237.0" cy="108.8" r="1.65"/>
<circle cx="237.2" cy="102.5" r="1.65"/>
<circle cx="237.4" cy="96.4" r="1.65"/>
<circle cx="237.6" cy="90.4" r="1.65"/>
<circle cx="237.8" cy="84.5" r="1.65"/>
<circle cx="238.0" cy="79.1" r="1.65"/>
<circle cx="238.2" cy="74.6" r="1.65"/>
<circle cx="238.4" cy="70.5" r="1.65"/>
<circle cx="238.6" cy="67.2" r="1.65"/>
<circle cx="238.7" cy="64.2" r="1.65"/>
<circle cx="238.8" cy="61.8" r="1.65"/>
<circle cx="239.0" cy="59.6" r="1.65"/>
<circle cx="239.2" cy="57.6" r="1.65"/>
<circle cx="239.3" cy="55.7" r="1.65"/>
<circle cx="239.4" cy="53.9" r="1.65"/>
<circle cx="239.6" cy="52.2" r="1.65"/>
<circle cx="239.8" cy="50.6" r="1.65"/>
<circle cx="240.0" cy="49.1" r="1.65"/>
<circle cx="240.2" cy="47.7" r="1.65"/>
<circle cx="240.6" cy="46.4" r="1.65"/>
<circle cx="240.9" cy="45.2" r="1.65"/>
<circle cx="241.4" cy="44.2" r="1.65"/>
<circle cx="242.0" cy="43.4" r="1.65"/>
<circle cx="242.8" cy="42.9" r="1.65"/>
<circle cx="243.8" cy="42.6" r="1.65"/>
<circle cx="245.0" cy="42.4" r="1.65"/>
<circle cx="246.0" cy="42.4" r="1.65"/>
<circle cx="246.9" cy="42.4" r="1.65"/>
<circle cx="247.8" cy="42.4" r="1.65"/>
<circle cx="248.7" cy="42.4" r="1.65"/>
<circle cx="249.6" cy="42.3" r="1.65"/>
<circle cx="250.5" cy="42.3" r="1.65"/>
<circle cx="251.4" cy="42.3" r="1.65"/>
<circle cx="252.3" cy="42.3" r="1.65"/>
<circle cx="253.2" cy="42.3" r="1.65"/>
<circle cx="254.1" cy="42.3" r="1.65"/>
<circle cx="255.0" cy="42.2" r="1.65"/>
<circle cx="255.9" cy="42.2" r="1.65"/>
<circle cx="256.8" cy="42.2" r="1.65"/>
<circle cx="257.7" cy="42.2" r="1.65"/>
<circle cx="258.6" cy="42.2" r="1.65"/>
<circle cx="259.5" cy="42.2" r="1.65"/>
<circle cx="260.4" cy="42.1" r="1.65"/>
<circle cx="261.3" cy="42.1" r="1.65"/>
<circle cx="262.2" cy="42.1" r="1.65"/>
<circle cx="263.1" cy="42.1" r="1.65"/>
<circle cx="264.0" cy="42.1" r="1.65"/>
<circle cx="264.9" cy="42.1" r="1.65"/>
<circle cx="265.8" cy="42.0" r="1.65"/>
<circle cx="266.7" cy="42.0" r="1.65"/>
<circle cx="267.6" cy="42.0" r="1.65"/>
</g>
<path d="M371.5,87.4 L407.1,107.9" stroke="#000" stroke-width="1.45" fill="none"/>
<path d="M415.3,112.6 L405.5,110.5 L408.6,105.2 Z" fill="#000"/>
<rect x="308.4" y="25.0" width="99.90000000000003" height="62.400000000000006" fill="#fff" stroke="#707070" stroke-width="1.2"/>
<g font-family="Liberation Sans, sans-serif" font-size="13" fill="#111" stroke="#111" stroke-width="0.2">
<text x="315.2" y="41.5" font-size="13.25">BCS - like</text>
<text x="315.6" y="59.4" font-family="Liberation Serif, serif" font-size="15">λ</text>
<text x="323.3" y="59.4" textLength="78" lengthAdjust="spacing">(0) = 0.05 µm</text>
<text x="315.2" y="76.4">Δ(0) = 0.78 T<tspan font-size="8.5" dy="4.7">c</tspan></text>
</g>
<path d="M351.7,310.4 L308.1,317.1" stroke="#000" stroke-width="0.85" fill="none"/>
<path d="M299.2,318.5 L307.7,314.4 L308.5,319.9 Z" fill="#000"/>
<rect x="351.7" y="280.1" width="131.60000000000002" height="62.799999999999955" fill="#fff" stroke="#707070" stroke-width="1.2"/>
<g font-family="Liberation Sans, sans-serif" font-size="13" fill="#111" stroke="#111" stroke-width="0.2">
<text x="358.4" y="297.2">single - gap BCS</text>
<text x="358.6" y="314.7" font-family="Liberation Serif, serif" font-size="15">λ</text>
<text x="366.6" y="314.7" textLength="109.6" lengthAdjust="spacing">(0) = 0.2 µm (fixed)</text>
<text x="358.4" y="332.5">Δ(0) = 1.25 T<tspan font-size="8.5" dy="4.7">c</tspan></text>
</g>
<path d="M199.3,283.2 L249.2,310.9" stroke="#000" stroke-width="0.85" fill="none"/>
<path d="M257.1,315.3 L247.9,313.4 L250.6,308.5 Z" fill="#000"/>
<rect x="103.1" y="216.3" width="141.6" height="67.09999999999997" fill="#fff" stroke="#707070" stroke-width="1.2"/>
<g font-family="Liberation Serif, serif" font-size="13.3" fill="#000" stroke="#000" stroke-width="0.15">
<text x="109.9" y="244.5">Δ</text><text x="117.9" y="244.5" font-style="italic" font-size="15.5">λ</text>
<text x="127.6" y="245.1" font-size="16.5">(</text><text x="131.7" y="244.5" font-style="italic">T</text><text x="140.6" y="245.1" font-size="16.5">)</text>
<text x="147.6" y="243.9" font-size="11.5">≈</text>
<text x="157.8" y="244.5" font-style="italic">a</text><text x="164.1" y="244.5" font-style="italic" font-size="15.5">λ</text>
<text x="174.2" y="245.1" font-size="16.5">(</text><text x="179" y="244.5">0</text><text x="185.6" y="245.1" font-size="16.5">)</text>
<text x="200.1" y="237.2" font-style="italic">T</text>
<path d="M198.5,241.7 H210.4" stroke="#111" stroke-width="0.8"/>
<text x="199.3" y="255.6" font-style="italic">T<tspan font-size="8" dy="1.6">c</tspan></text>
<path d="M196.3,223.3 C190.8,234 190.8,252 196.3,262.4 C192.4,252 192.4,234 196.3,223.3Z" fill="#111" stroke="#111" stroke-width="0.5"/>
<path d="M214.3,223.3 C219.8,234 219.8,252 214.3,262.4 C218.2,252 218.2,234 214.3,223.3Z" fill="#111" stroke="#111" stroke-width="0.5"/>
<text x="218.1" y="227.7" font-size="7.7">2.83</text>
<text x="109.8" y="276.8" font-style="italic">a</text><text x="119" y="276.8">=</text><text x="127.8" y="276.8">1.08;</text><text x="156.3" y="276.8" font-style="italic" font-size="15.5">λ</text>
<text x="165.8" y="277.2" font-size="15.5">(</text><text x="169.9" y="276.8">0</text><text x="176.5" y="277.2" font-size="15.5">)</text>
<text x="183.9" y="276.8">=</text><text x="194.3" y="276.8">0.2</text><text x="213.9" y="276.8" font-style="italic">µ</text><text x="221.2" y="276.8">m</text>
</g>
</svg>
</body></html>
